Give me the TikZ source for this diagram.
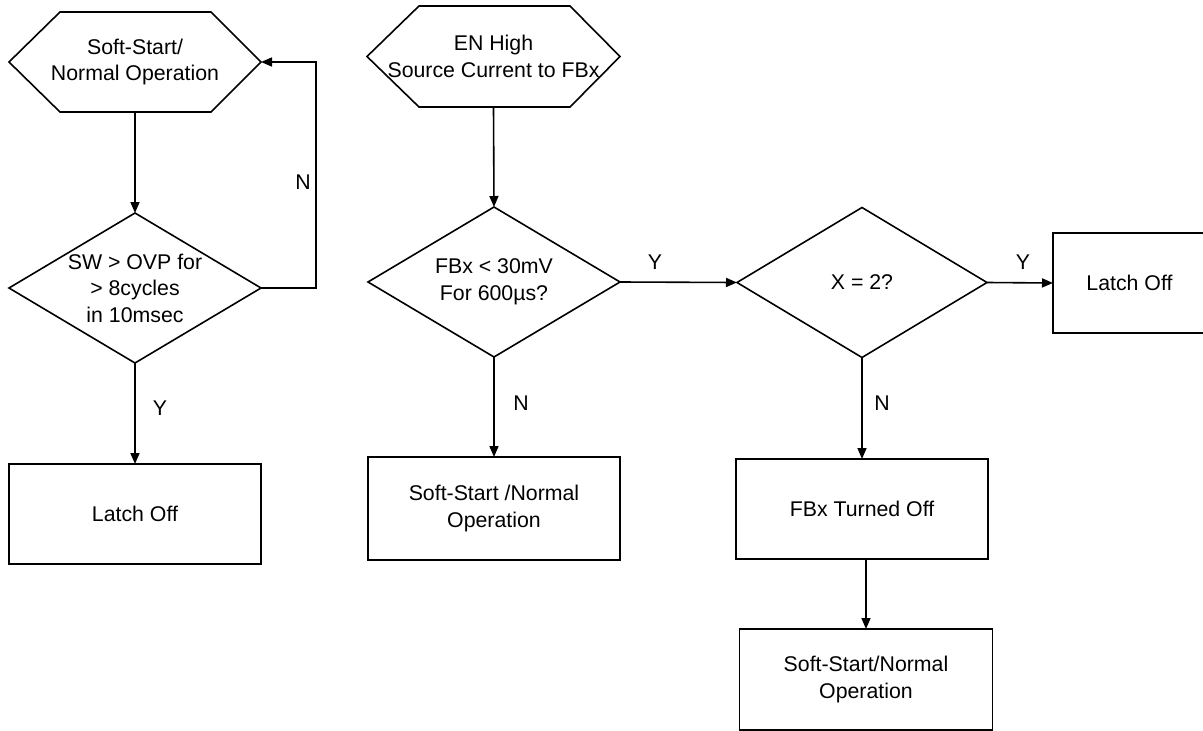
\documentclass[tikz,border=0pt]{standalone}
\usepackage{fontspec}
\setmainfont{Liberation Sans}
\usetikzlibrary{arrows.meta}
\begin{document}
\begin{tikzpicture}[x=1pt,y=-1pt,
  every node/.style={font=\fontsize{21.3}{26.5}\selectfont, align=center, inner sep=0pt, outer sep=0pt},
  shapeline/.style={draw, line width=1.6pt, line join=miter},
  boxnode/.style={draw, line width=1.6pt, rectangle},
  ghost/.style={rectangle},
  conn/.style={line width=1.6pt, -{Triangle[length=11pt,width=9pt]}},
  lbl/.style={font=\fontsize{21.3}{24}\selectfont}
]
\useasboundingbox (0,0) rectangle (1203,731);

% left column
\node[ghost, minimum width=252, minimum height=100] (h1) at (135,62) {Soft-Start/\\Normal Operation};
\draw[shapeline] (h1.west) -- ([xshift=51pt]h1.north west) -- ([xshift=-50pt]h1.north east) -- (h1.east) -- ([xshift=-50pt]h1.south east) -- ([xshift=51pt]h1.south west) -- cycle;

\node[ghost, minimum width=252, minimum height=150] (d1) at (135,288) {SW > OVP for\\> 8cycles\\in 10msec};
\draw[shapeline] (d1.north) -- (d1.east) -- (d1.south) -- (d1.west) -- cycle;

\node[boxnode, minimum width=252, minimum height=100] (l1) at (135,514) {Latch Off};

% middle column
\node[ghost, minimum width=253, minimum height=101] (h2) at (493.5,56.5) {EN High\\Source Current to FBx};
\draw[shapeline] (h2.west) -- ([xshift=52pt]h2.north west) -- ([xshift=-50pt]h2.north east) -- (h2.east) -- ([xshift=-50pt]h2.south east) -- ([xshift=52pt]h2.south west) -- cycle;

\node[ghost, minimum width=252, minimum height=150] (d2) at (494,282) {FBx < 30mV\\For 600µs?};
\draw[shapeline] (d2.north) -- (d2.east) -- (d2.south) -- (d2.west) -- cycle;

\node[boxnode, minimum width=252, minimum height=103] (b2) at (494,508.5) {Soft-Start /Normal\\Operation};

% right column
\node[ghost, minimum width=250, minimum height=150] (d3) at (862,282.5) {X = 2?};
\draw[shapeline] (d3.north) -- (d3.east) -- (d3.south) -- (d3.west) -- cycle;

\node[boxnode, minimum width=153, minimum height=100] (l2) at (1129.5,283) {Latch Off};

\node[boxnode, minimum width=252, minimum height=100] (f) at (862,509) {FBx Turned Off};

\node[boxnode, minimum width=253, minimum height=101] (b3) at (866,679.5) {Soft-Start/Normal\\Operation};

% connectors
\draw[conn] (h1.south) -- (d1.north);
\draw[conn] (d1.east) -- ++(55,0) |- (h1.east);
\draw[conn] (d1.south) -- (l1.north);
\draw[conn] (h2.south) -- (d2.north);
\draw[conn] (d2.south) -- (b2.north);
\draw[conn] (d2.east) -- (d3.west);
\draw[conn] (d3.east) -- (l2.west);
\draw[conn] (d3.south) -- (f.north);
\draw[conn] (b3.north |- f.south) -- (b3.north);

% labels
\node[lbl] (n1) at (303,182) {N};
\node[lbl] (y1) at (160,408) {Y};
\node[lbl] (n2) at (521,403) {N};
\node[lbl] (y2) at (655,262) {Y};
\node[lbl] (y3) at (1023,262) {Y};
\node[lbl] (n3) at (882,403) {N};
\end{tikzpicture}
\end{document}
